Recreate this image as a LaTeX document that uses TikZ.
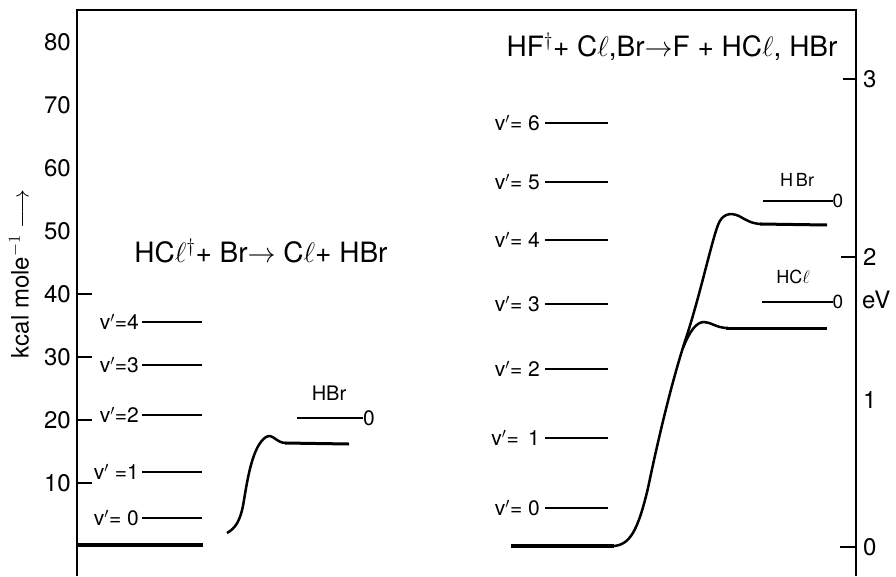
\documentclass[tikz,border=0pt]{standalone}
\usepackage{fix-cm}
\usepackage{fontspec}
\setmainfont{TeX Gyre Heros}
\usetikzlibrary{positioning}
\newcommand{\enell}{$\ell$}
\tikzset{
  enaxis/.style={line width=2.3pt},
  entick/.style={line width=1.3pt},
  enlevel/.style={line width=1.5pt},
  enground/.style={line width=3.6pt},
  encurve/.style={line width=2.5pt},
  enflat/.style={line width=3pt},
  entitle/.style={font=\fontsize{28}{30}\selectfont, inner sep=0pt},
  ennum/.style={font=\fontsize{24}{26}\selectfont, inner sep=0pt},
  envlab/.style={font=\fontsize{21}{23}\selectfont, inner sep=0pt},
  enprod/.style={font=\fontsize{20}{22}\selectfont, inner sep=0pt},
  ensmall/.style={font=\fontsize{18}{20}\selectfont, inner sep=0pt},
}
\begin{document}
\begin{tikzpicture}[x=1pt, y=-1pt]
  \useasboundingbox (0,0) rectangle (896,576);

  % frame: two axes and the top line
  \coordinate (tl) at (77,10);
  \coordinate (tr) at (856,10);
  \coordinate (bl) at (77,576);
  \coordinate (br) at (856,576);
  \draw[enaxis] (bl) -- (tl) -- (tr) -- (br);

  % kcal scale
  \foreach \k in {1,...,8} {
    \node[ennum, anchor=east] (kc\k) at (71,546-63*\k) {\the\numexpr\k*10\relax};
  }
  \foreach \k in {1,...,4} {
    \draw[entick] (77,546-63*\k) -- (92,546-63*\k);
  }
  \node[ennum, rotate=90] (kunit) at (19,274)
    {kcal mole$^{-1}$ $\longrightarrow$};

  % eV scale
  \node[ennum, anchor=west] (ev3) at (863,79) {3};
  \node[ennum, anchor=west] (ev2) at (863,257) {2};
  \node[ennum, anchor=west] (ev1) at (863,400) {1};
  \node[ennum, anchor=west] (ev0) at (863,547) {0};
  \node[ennum, anchor=west] (evu) at (862,300) {eV};
  \draw[entick] (843,79) -- (856,79);
  \draw[entick] (841,257) -- (856,257);
  \draw[entick] (840,547) -- (856,547);

  % left reaction
  \node[entitle] (ltitle) at (261,251)
    {HC\enell$^{\dagger}$+ Br$\rightarrow$ C\enell+ HBr};
  \node[envlab, anchor=east] (lv4) at (139,322) {v$'$=4};
  \node[envlab, anchor=east] (lv3) at (139,365) {v$'$=3};
  \node[envlab, anchor=east] (lv2) at (139,415) {v$'$=2};
  \node[envlab, anchor=east] (lv1) at (139,472) {v$'$ =1};
  \node[envlab, anchor=east] (lv0) at (139,518) {v$'$= 0};
  \foreach \n in {0,...,4} {
    \draw[enlevel] (lv\n.east) ++(3,0) -- ++(60,0);
  }
  \draw[enground] (77,545) -- (203,545);
  \draw[encurve] (227,533) .. controls (236,528) and (240,520) .. (243,506)
    .. controls (247,482) and (252,446) .. (266,437)
    .. controls (273,433) and (276,443) .. (286,443);
  \draw[enflat] (285,443) -- (349,444);
  \node[enprod] (lhbr) at (329,393) {HBr};
  \node[ennum, font=\fontsize{21}{23}\selectfont] (lzero) at (369,418) {0};
  \draw[enlevel] (297,418) -- (lzero.west);

  % right reaction
  \node[entitle] (rtitle) at (672,47)
    {HF$^{\dagger}$+ C\enell,Br$\rightarrow$F + HC\enell, HBr};
  \node[envlab, anchor=east] (rv6) at (540,123) {v$'$= 6};
  \node[envlab, anchor=east] (rv5) at (540,182) {v$'$= 5};
  \node[envlab, anchor=east] (rv4) at (540,240) {v$'$= 4};
  \node[envlab, anchor=east] (rv3) at (540,304) {v$'$= 3};
  \node[envlab, anchor=east] (rv2) at (540,369) {v$'$= 2};
  \node[envlab, anchor=east] (rv1) at (540,438) {v$'$= \,1};
  \node[envlab, anchor=east] (rv0) at (540,508) {v$'$= 0};
  \foreach \n in {0,...,6} {
    \draw[enlevel] (rv\n.east) ++(5,0) -- (608,0 |- rv\n.east);
  }
  \draw[enground] (511,546) -- (614,546);
  \draw[encurve] (612,546) .. controls (630,546) and (638,530) .. (648,488)
    .. controls (658,440) and (672,380) .. (687,335)
    .. controls (700,295) and (712,240) .. (718,225)
    .. controls (722,214) and (730,212) .. (739,216)
    .. controls (746,220) and (752,224) .. (762,224);
  \draw[enflat] (760,224) -- (827,225);
  \draw[encurve] (683,348) .. controls (690,330) and (697,322) .. (704,322)
    .. controls (711,322) and (716,328) .. (728,328);
  \draw[enflat] (726,328) -- (827,328);
  \node[ensmall] (rhbr) at (797,180) {H\,Br};
  \node[ennum, font=\fontsize{19}{21}\selectfont] (rzbr) at (838,201) {0};
  \draw[enlevel] (763,201) -- (rzbr.west);
  \node[ensmall] (rhcl) at (793,277) {HC\enell};
  \node[ennum, font=\fontsize{19}{21}\selectfont] (rzcl) at (838,302) {0};
  \draw[enlevel] (762,302) -- (rzcl.west);
\end{tikzpicture}
\end{document}
